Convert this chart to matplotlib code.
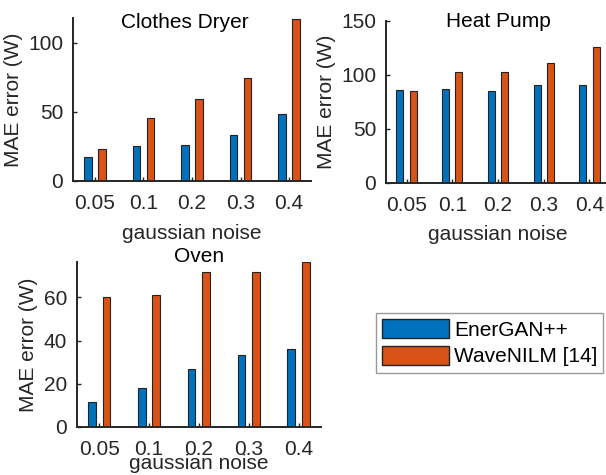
import numpy as np
import matplotlib
matplotlib.use('Agg')
import matplotlib.pyplot as plt
from matplotlib.patches import Patch

plt.rcParams['font.family'] = ['Liberation Sans', 'DejaVu Sans']
plt.rcParams['font.size'] = 15

noise = ['0.05', '0.1', '0.2', '0.3', '0.4']
methods = ['EnerGAN++', 'WaveNILM [14]']

dryer_energan = [17.2, 25.6, 25.8, 33.6, 48.5]
dryer_wavenilm = [23.0, 45.4, 59.2, 74.6, 117.5]
heat_energan = [86.1, 86.4, 84.9, 90.7, 90.1]
heat_wavenilm = [84.6, 102.2, 102.5, 110.8, 125.3]
oven_energan = [11.4, 18.1, 26.9, 33.5, 36.3]
oven_wavenilm = [60.1, 61.2, 71.7, 71.8, 76.3]

blue = '#0072BD'
orange = '#D95319'
axcol = '#262626'

W, H = 606, 475
fig = plt.figure(figsize=(W / 100, H / 100), dpi=100)

def px_axes(left, top, right, bottom):
    return fig.add_axes([left / W, 1 - bottom / H, (right - left) / W, (bottom - top) / H])

def draw(ax, a, b, title, ymax, yticks, title_y, title_x=0.5, xlabelpad=7.5):
    x = np.arange(1, len(noise) + 1)
    w = 0.155
    ax.bar(x - 0.145, a, w, color=blue, edgecolor='#222222', linewidth=0.8)
    ax.bar(x + 0.145, b, w, color=orange, edgecolor='#222222', linewidth=0.8)
    ax.set_xlim(0.55, 5.45)
    ax.set_ylim(0, ymax)
    ax.set_xticks(x)
    ax.set_xticklabels(noise)
    ax.set_yticks(yticks)
    for s in ['top', 'right']:
        ax.spines[s].set_visible(False)
    for s in ['left', 'bottom']:
        ax.spines[s].set_color(axcol)
        ax.spines[s].set_linewidth(1.4)
    ax.tick_params(direction='in', length=3, width=1, colors=axcol, labelsize=15, pad=7)
    ax.tick_params(axis='x', pad=9.5)
    ax.set_xlabel('gaussian noise', color=axcol, labelpad=xlabelpad)
    ax.set_ylabel('MAE error (W)', color=axcol)
    ax.text(title_x, title_y, title, transform=ax.transAxes, ha='center', va='baseline', color='black')

ax1 = px_axes(73, 18, 311, 181)
draw(ax1, dryer_energan, dryer_wavenilm, 'Clothes Dryer', 118, [0, 50, 100], 0.94, 0.47)

ax2 = px_axes(386, 20.7, 610, 182.7)
draw(ax2, heat_energan, heat_wavenilm, 'Heat Pump', 150, [0, 50, 100, 150], 0.963)

ax3 = px_axes(76.7, 262.3, 321, 427)
draw(ax3, oven_energan, oven_wavenilm, 'Oven', 76.3, [0, 20, 40, 60], 1.0, xlabelpad=-3.5)

handles = [Patch(facecolor=blue, edgecolor='#222222'), Patch(facecolor=orange, edgecolor='#222222')]
leg = fig.legend(handles, methods, loc='upper left', bbox_to_anchor=(375.7 / W, 1 - 313 / H),
                 fancybox=False, edgecolor='#999999', framealpha=1, handlelength=3.2,
                 handleheight=1.0, handletextpad=0.25, labelspacing=0.3, borderpad=0.3,
                 borderaxespad=0, fontsize=15)
leg.get_frame().set_linewidth(1.0)

fig.savefig('out.png', dpi=100)
